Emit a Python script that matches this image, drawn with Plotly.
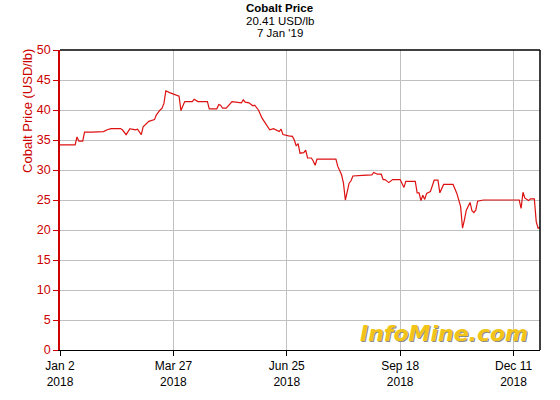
import plotly.graph_objects as go

# Trading-day index (0 = Jan 2 2018) and cobalt price, USD/lb
trading_day = [0, 8, 9, 10, 12, 13, 17, 23, 25, 27, 32, 33, 35, 37, 38, 40, 41, 43, 44, 46,
               47, 50, 51, 53, 54, 55, 56, 58, 60, 61, 63, 64, 66, 70, 71, 73, 78, 79, 83, 84,
               85, 86, 88, 91, 96, 97, 98, 100, 102, 103, 105, 107, 109, 111, 113, 116, 117, 118, 121, 123,
               124, 125, 126, 127, 129, 130, 131, 133, 134, 135, 136, 146, 147, 149, 150, 151, 152, 153, 154, 155,
               160, 165, 166, 168, 170, 171, 172, 174, 176, 180, 182, 183, 188, 189, 190, 191, 192, 193, 194, 196,
               198, 200, 201, 203, 208, 210, 212, 213, 214, 215, 217, 218, 219, 220, 221, 224, 243, 244, 245, 246,
               248, 249, 251, 252, 253, 254]
price = [34.2, 34.2, 35.5, 34.8, 34.8, 36.3, 36.3, 36.4, 36.7, 36.9, 36.9, 36.7, 35.9, 36.9, 36.8, 36.7, 36.8, 35.9, 37.2, 37.9,
         38.1, 38.4, 39.2, 40.0, 40.3, 41.1, 43.2, 42.9, 42.7, 42.5, 42.3, 39.9, 41.4, 41.4, 41.8, 41.4, 41.4, 40.2, 40.2, 40.9,
         40.8, 40.3, 40.3, 41.4, 41.2, 41.7, 41.3, 41.2, 40.7, 40.8, 40.0, 38.6, 37.6, 36.7, 36.9, 36.4, 36.8, 35.9, 35.7, 35.6,
         35.0, 34.0, 34.4, 32.8, 32.9, 33.3, 32.0, 32.0, 31.5, 30.8, 31.8, 31.8, 30.6, 29.2, 27.8, 25.0, 26.4, 27.8, 28.2, 29.0,
         29.1, 29.2, 29.6, 29.3, 29.3, 28.4, 28.4, 27.9, 28.4, 28.4, 27.1, 28.1, 28.1, 26.2, 26.2, 24.9, 25.8, 25.1, 26.1, 26.4,
         28.3, 28.3, 26.2, 27.6, 27.6, 26.1, 23.9, 20.3, 21.7, 23.3, 24.6, 23.2, 22.9, 23.3, 24.8, 25.0, 25.0, 23.6, 26.3, 25.3,
         24.9, 25.2, 25.2, 21.4, 20.3, 20.41]

tick_days = [0, 60, 120, 180, 240]
tick_labels = ["Jan 2<br>2018", "Mar 27<br>2018", "Jun 25<br>2018", "Sep 18<br>2018", "Dec 11<br>2018"]
y_ticks = [0, 5, 10, 15, 20, 25, 30, 35, 40, 45, 50]

title_lines = ["<b>Cobalt Price</b>", "20.41 USD/lb", "7 Jan '19"]
y_title = "Cobalt Price (USD/lb)"

RED = "#cc0000"
FONT = "Liberation Sans, Arial, sans-serif"

fig = go.Figure()
fig.add_trace(go.Scatter(x=trading_day, y=price, mode="lines",
                         line=dict(color="#dd1111", width=1.2), hoverinfo="skip"))

fig.update_layout(
    width=560, height=400,
    margin=dict(l=60, r=20, t=50, b=50, autoexpand=False),
    paper_bgcolor="white", plot_bgcolor="white",
    showlegend=False,
    font=dict(family=FONT, size=12, color="black"),
)
fig.update_xaxes(
    range=[0, 254], tickmode="array", tickvals=tick_days, ticktext=tick_labels,
    showgrid=True, gridcolor="#c0c0c0", gridwidth=1,
    showline=True, linecolor="black", linewidth=1,
    ticks="outside", ticklen=5, tickcolor="black",
    tickfont=dict(family=FONT, size=12, color="black"),
    zeroline=False, fixedrange=True, automargin=False,
)
fig.update_yaxes(
    range=[0, 50], tickmode="array", tickvals=y_ticks,
    showgrid=True, gridcolor="#c0c0c0", gridwidth=1,
    showline=True, linecolor=RED, linewidth=1.5,
    ticks="outside", ticklen=5, tickcolor=RED,
    tickfont=dict(family=FONT, size=12.5, color=RED),
    zeroline=False, fixedrange=True, automargin=False,
)

# y-axis title (placed near the top, as in the reference)
fig.add_annotation(text=y_title, xref="paper", yref="paper", x=-0.0667, y=0.797,
                   textangle=-90, showarrow=False, xanchor="center", yanchor="middle",
                   font=dict(family=FONT, size=13, color=RED))

# top and right frame lines
fig.add_shape(type="line", xref="paper", yref="paper", x0=0, x1=1, y0=1, y1=1,
              line=dict(color="black", width=1.5))
fig.add_shape(type="line", xref="paper", yref="paper", x0=1, x1=1, y0=0, y1=1,
              line=dict(color="black", width=1.5))

# title
for i, t in enumerate(title_lines):
    fig.add_annotation(text=t, xref="paper", yref="paper", x=0.458, y=1.0,
                       yshift=42 - i * 12.5, showarrow=False, xanchor="center", yanchor="middle",
                       font=dict(family=FONT, size=11.5, color="black"))

# InfoMine logo
fig.add_annotation(text="<b><i>InfoMine.com</i></b>", xref="paper", yref="paper",
                   x=0.979, y=0.0, xshift=1, yshift=16, showarrow=False,
                   xanchor="right", yanchor="middle",
                   font=dict(family="DejaVu Sans, sans-serif", size=22, color="#8a8a8a"))
fig.add_annotation(text="<b><i>InfoMine.com</i></b>", xref="paper", yref="paper",
                   x=0.979, y=0.0, yshift=17, showarrow=False,
                   xanchor="right", yanchor="middle",
                   font=dict(family="DejaVu Sans, sans-serif", size=22, color="#f2c418"))

fig.write_html("out.html", config={"displayModeBar": False},
               post_script="document.body.style.margin='0';document.body.style.overflow='hidden';")
